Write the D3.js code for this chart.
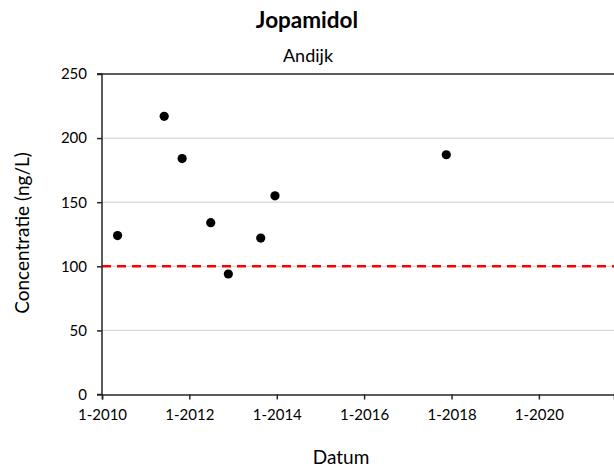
<!DOCTYPE html>
<html><head><meta charset="utf-8">
<script src="https://cdn.jsdelivr.net/npm/d3@7"></script>
<style>body{margin:0;background:#fff}svg{display:block}text{font-family:Lato,"Open Sans",sans-serif;fill:#000}</style>
</head><body>
<script>
const dates = ["2010-05-11","2011-06-05","2011-11-02","2012-06-28","2012-11-22","2013-08-20","2013-12-17","2017-11-18"];
const values = [124, 217, 184, 134, 94, 122, 155, 187];
const xTicks = ["2010-01-01","2012-01-01","2014-01-01","2016-01-01","2018-01-01","2020-01-01"];
const yTicks = [0, 50, 100, 150, 200, 250];
const norm = 100;
const title = "Jopamidol", subtitle = "Andijk", xTitle = "Datum", yTitle = "Concentratie (ng/L)";

const W = 614, H = 468;
const parse = d3.utcParse("%Y-%m-%d");
const fmt = d3.utcFormat("%-m-%Y");
const svg = d3.select("body").append("svg").attr("width", W).attr("height", H);
const x = d3.scaleUtc().domain([parse("2010-01-01"), parse("2021-09-20")]).range([102, 614]);
const y = d3.scaleLinear().domain([0, 250]).range([394.5, 74]);

// gridlines
svg.append("g").selectAll("line").data(yTicks.filter(v => v > 0 && v < 250)).join("line")
  .attr("x1", 102).attr("x2", W).attr("y1", d => y(d)).attr("y2", d => y(d))
  .attr("stroke", "#d9d9d9").attr("stroke-width", 1.3);
// top line
svg.append("line").attr("x1", 97).attr("x2", W).attr("y1", y(250)).attr("y2", y(250))
  .attr("stroke", "#262626").attr("stroke-width", 1.5);

// norm line
svg.append("line").attr("x1", 102).attr("x2", W).attr("y1", y(norm)).attr("y2", y(norm))
  .attr("stroke", "#ff0000").attr("stroke-width", 2.5).attr("stroke-dasharray", "9,6");

// axes
const yAxis = svg.append("g").attr("transform", "translate(102,0)")
  .call(d3.axisLeft(y).tickValues(yTicks).tickSize(5).tickPadding(10).tickFormat(d3.format("d")));
const xAxis = svg.append("g").attr("transform", `translate(0,${y(0)})`)
  .call(d3.axisBottom(x).tickValues(xTicks.map(parse)).tickSize(5).tickPadding(10).tickFormat(fmt));
[yAxis, xAxis].forEach(a => {
  a.select(".domain").attr("stroke", "#262626").attr("stroke-width", 1.5);
  a.selectAll(".tick line").attr("stroke", "#262626").attr("stroke-width", 1.5);
  a.selectAll("text").attr("font-size", 15).attr("font-family", "Lato").attr("fill", "#000");
});
yAxis.select(".domain").attr("d", `M-5,${y(250)}H0V${y(0)}H-5`);

// points
svg.append("g").selectAll("circle").data(dates.map((d, i) => ({d: parse(d), v: values[i]}))).join("circle")
  .attr("cx", p => x(p.d)).attr("cy", p => y(p.v)).attr("r", 4.6).attr("fill", "#000");

// titles
svg.append("text").attr("x", 307).attr("y", 28).attr("text-anchor", "middle")
  .attr("font-size", 22.5).attr("font-weight", "bold").text(title);
svg.append("text").attr("x", 308).attr("y", 62).attr("text-anchor", "middle")
  .attr("font-size", 18).text(subtitle);
svg.append("text").attr("x", 341).attr("y", 464).attr("text-anchor", "middle")
  .attr("font-size", 19).text(xTitle);
svg.append("text").attr("transform", "translate(29,233) rotate(-90)").attr("text-anchor", "middle")
  .attr("font-size", 19).text(yTitle);
</script>
</body></html>
